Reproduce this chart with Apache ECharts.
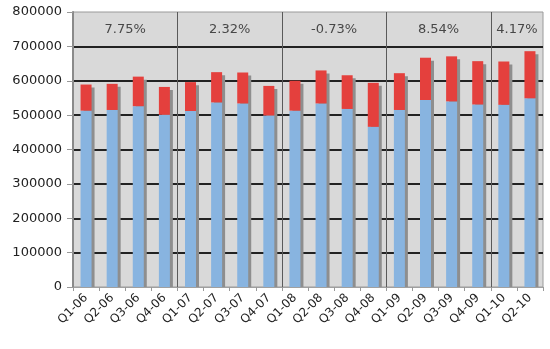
<!DOCTYPE html>
<html><head><meta charset="utf-8">
<script src="https://cdn.jsdelivr.net/npm/echarts@6/dist/echarts.min.js"></script>
<style>html,body{margin:0;padding:0;background:#fff}#c{width:550px;height:349px}</style>
</head><body><div id="c"></div>
<script>
const categories = ['Q1-06','Q2-06','Q3-06','Q4-06','Q1-07','Q2-07','Q3-07','Q4-07','Q1-08','Q2-08','Q3-08','Q4-08','Q1-09','Q2-09','Q3-09','Q4-09','Q1-10','Q2-10'];
const baseValues = [513000,515000,526000,501000,512000,537000,534000,499000,513000,534000,518000,466000,515000,544000,540000,531000,530000,549000];
const extraValues = [76000,76000,86000,81000,84000,88000,90000,86000,87000,96000,98000,128000,107000,123000,131000,126000,126000,137000];
const yearGrowth = ['7.75%','2.32%','-0.73%','8.54%','4.17%'];
const yMin = 0, yMax = 800000, yStep = 100000;
const headerValue = 750000;

const totals = baseValues.map((v,i)=>v+extraValues[i]);
const groups = [];
categories.forEach((c,i)=>{
  const yr = c.split('-')[1];
  if(!groups.length || groups[groups.length-1].yr!==yr) groups.push({yr, start:i, end:i+1});
  else groups[groups.length-1].end = i+1;
});
const headerData = groups.map((g,k)=>({value:[(g.start+g.end)/2, headerValue], name: yearGrowth[k]}));

const BW = 11;
const chart = echarts.init(document.getElementById('c'), null, {renderer:'canvas'});
chart.setOption({
  animation:false,
  textStyle:{fontFamily:'DejaVu Sans'},
  grid:{left:73,right:7,top:12,bottom:62,show:true,backgroundColor:'#d9d9d9',borderColor:'#9a9a9a',borderWidth:1},
  xAxis:[{
    type:'category', data:categories, boundaryGap:true,
    axisLine:{show:true,lineStyle:{color:'#a0a0a0',width:1}},
    axisTick:{show:true,length:4,lineStyle:{color:'#999'}},
    axisLabel:{rotate:45,fontSize:12,color:'#222',margin:9,interval:0},
    splitLine:{show:false}
  },{
    type:'value', min:0, max:categories.length, interval:4, position:'top',
    axisLine:{show:false}, axisTick:{show:false}, axisLabel:{show:false},
    splitLine:{show:true,showMinLine:false,showMaxLine:false,lineStyle:{color:'#5a5a5a',width:1}}
  }],
  yAxis:{
    type:'value', min:yMin, max:yMax, interval:yStep,
    axisLine:{show:true,lineStyle:{color:'#8a8a8a',width:2}},
    axisTick:{show:true,length:6,lineStyle:{color:'#999'}},
    axisLabel:{fontSize:13,color:'#222',margin:11,formatter:v=>String(v)},
    splitLine:{show:true,showMinLine:false,showMaxLine:false,lineStyle:{width:2,color:'#222'}}
  },
  series:[
    {type:'custom', xAxisIndex:0, yAxisIndex:0, z:1,
     data: totals.map((t,i)=>[i,t]),
     renderItem:function(params, api){
       const top = api.coord([api.value(0), api.value(1)]);
       const bot = api.coord([api.value(0), 0]);
       const x = top[0]-BW/2+3, y = top[1]+3;
       return {type:'rect', shape:{x:x,y:y,width:BW,height:bot[1]-y}, style:{fill:'#8e8e8e'}};
     }},
    {type:'bar', name:'base', stack:'s', data:baseValues, barWidth:BW, z:3, itemStyle:{color:'#88b4e0'}},
    {type:'bar', name:'extra', stack:'s', data:extraValues, barWidth:BW, z:3, itemStyle:{color:'#e4403d'}},
    {type:'scatter', xAxisIndex:1, yAxisIndex:0, symbolSize:0, data:headerData, z:5,
     label:{show:true,position:'inside',formatter:p=>p.name,fontSize:13,color:'#222'}}
  ]
});
</script></body></html>
